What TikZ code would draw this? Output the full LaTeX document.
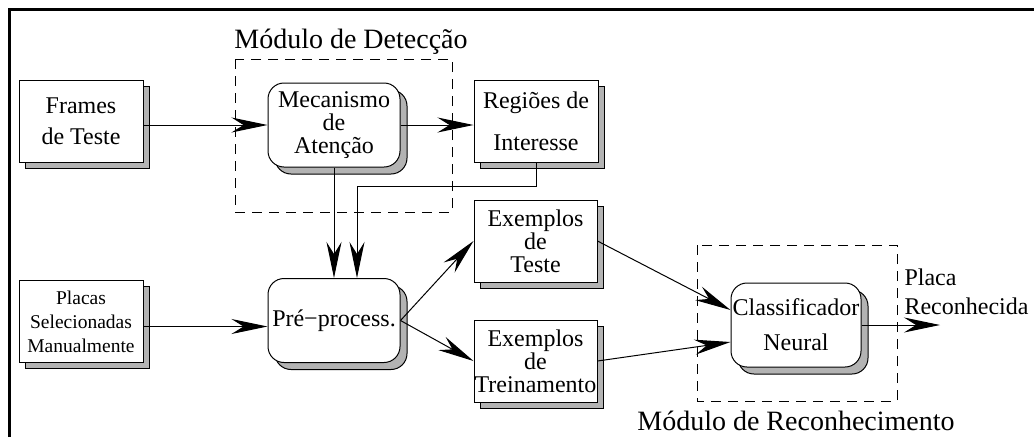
\documentclass[tikz,border=0pt]{standalone}
\usepackage{fontspec}
\setmainfont{Liberation Serif}
\usetikzlibrary{arrows.meta,shadows}
\definecolor{shadowgray}{RGB}{179,179,179}

\tikzset{
  boxbase/.style={draw, fill=white, line width=1pt, inner sep=0.5pt, align=center,
    font=\fontsize{24}{23}\selectfont},
  box/.style={boxbase, minimum width=124pt, minimum height=82pt,
    copy shadow={shadow xshift=6pt, shadow yshift=-6pt, fill=shadowgray}},
  rbox/.style={boxbase, rounded corners=16pt, minimum width=132pt, minimum height=84pt,
    copy shadow={shadow xshift=7pt, shadow yshift=-7pt, fill=shadowgray}},
  group/.style={draw, line width=1pt, dash pattern=on 10pt off 7pt},
  title/.style={anchor=base, font=\fontsize{28}{30}\selectfont},
  arr/.style={line width=1pt, -{Stealth[length=36pt, width=15pt, inset=12pt]}}
}

\begin{document}
\begin{tikzpicture}[x=1pt, y=-1pt]
    \useasboundingbox (0,0) rectangle (1034,437);
    \draw[line width=3pt] (9.5,437) -- (9.5,9.5) -- (1034,9.5);

    \draw[group] (235,59) rectangle (452,212);
    \draw[group] (697,245) rectangle (897,401);
    \node[title] (dettitle) at (351,48) {Módulo de Detecção};
    \node[title] (rectitle) at (796,430) {Módulo de Reconhecimento};

    \node[box] (frames) at (81,121) {Frames\\[8pt]de Teste};
    \node[rbox] (mec) at (334,125) {Mecanismo\\de\\Atenção};
    \node[box] (reg) at (536,121.5) {Regiões de\\[19pt]Interesse};
    \node[box, font=\fontsize{19.5}{24}\selectfont] (placas) at (81,321.5) {Placas\\Selecionadas\\Manualmente};
    \node[rbox] (prep) at (334,320.5) {Pré−process.};
    \node[box, minimum width=123pt] (extest) at (535.5,241) {Exemplos\\de\\Teste};
    \node[box, minimum width=123pt] (extrain) at (535.5,361) {Exemplos\\de\\Treinamento};
    \node[rbox, minimum width=130pt] (cls) at (796,325) {Classificador\\[12pt]Neural};
    \node[anchor=west, align=left, font=\fontsize{24}{29}\selectfont] (outlabel) at (901,292) {Placa\\Reconhecida};
    \coordinate (out) at (940,327);

    \draw[arr] (frames.east |- mec.west) -- (mec.west);
    \draw[arr] (mec.east) -- (mec.east -| reg.west);
    \draw[arr] (mec.south) -- (mec.south |- prep.north);
    \draw[arr] (reg.south) -- ++(0,23) -| ([xshift=23pt]prep.north);
    \draw[arr] ([yshift=-6pt]prep.west -| placas.east) -- ([yshift=-6pt]prep.west);
    \draw[arr] (prep.east) -- (extest.west);
    \draw[arr] (prep.east) -- (extrain.west);
    \draw[arr] (extest.east) -- ([yshift=15pt]cls.west);
    \draw[arr] (extrain.east) -- ([yshift=-17pt]cls.west);
    \draw[arr] (cls.east) -- (cls.east -| out);
\end{tikzpicture}
\end{document}
